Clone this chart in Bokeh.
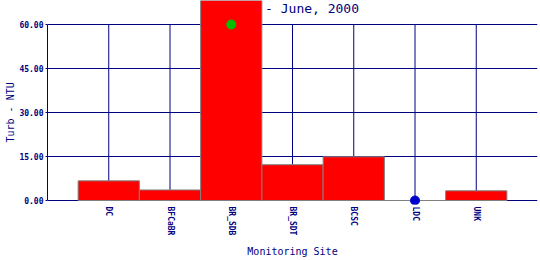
from bokeh.plotting import figure
from bokeh.models import Range1d, FactorRange, FixedTicker, PrintfTickFormatter, Title
from bokeh.core.properties import value
from bokeh.embed import file_html
from bokeh.resources import INLINE

# ---- data ----
sites = ["DC", "BFCaBR", "BR_SDB", "BR_SDT", "BCSC", "LDC", "UNK"]
turb = [6.7, 3.6, 70.0, 12.2, 14.9, 0.0, 3.3]
green_sites = ["BR_SDB"]
green_vals = [60.0]
blue_sites = ["LDC"]
blue_vals = [0.0]
y_ticks = [0, 15, 30, 45, 60]
title_text = "Turb - June, 2000"
x_title = "Monitoring Site"
y_title = "Turb - NTU"

NAVY = "#000080"
FONT = "DejaVu Sans Mono"
px_per_unit = 176 / 60.0
ymax = max(y_ticks) + 24 / px_per_unit
ymin = -4 / px_per_unit

p = figure(width=540, height=260,
           x_range=FactorRange(factors=sites, range_padding=0.5, range_padding_units="absolute"),
           y_range=Range1d(ymin, ymax),
           output_backend="svg", toolbar_location=None,
           min_border_left=47, min_border_right=3, min_border_top=0, min_border_bottom=50)
p.outline_line_color = None
p.background_fill_color = "white"
p.border_fill_color = "white"

p.xgrid.grid_line_color = None
p.ygrid.ticker = FixedTicker(ticks=y_ticks)
p.ygrid.grid_line_color = NAVY
p.ygrid.grid_line_width = 1

# title drawn inside the plot area (partly hidden by tall bar)
p.text(x=[sites[len(sites) // 2]], y=[max(y_ticks) + 16 / px_per_unit], text=[title_text],
       text_font=value(FONT), text_font_size="13px", text_color=NAVY,
       text_align="center", text_baseline="middle")

# vertical grid lines at category centres
n = len(sites)
p.segment(x0=sites, y0=[min(y_ticks)] * n, x1=sites, y1=[max(y_ticks)] * n,
          line_color=NAVY, line_width=1)

p.vbar(x=sites, top=turb, width=1.0, fill_color="#ff0000", line_color="#808080", line_width=1)

p.scatter(x=green_sites, y=green_vals, size=9, fill_color="#00c000", line_color="#00c000")
p.scatter(x=blue_sites, y=blue_vals, size=9, fill_color="#0000cc", line_color="#0000cc")

# y axis
ya = p.yaxis[0]
ya.ticker = FixedTicker(ticks=y_ticks)
ya.formatter = PrintfTickFormatter(format="%.2f")
ya.bounds = (min(y_ticks), max(y_ticks))
ya.axis_line_color = NAVY
ya.major_tick_line_color = NAVY
ya.major_tick_out = 2
ya.major_tick_in = 0
ya.minor_tick_line_color = None
ya.major_label_standoff = 2
ya.major_label_text_font = FONT
ya.major_label_text_font_size = "8px"
ya.major_label_text_font_style = "bold"
ya.major_label_text_color = NAVY

# y axis title, placed along the 0-60 span
p.add_layout(Title(text=y_title, align="left", offset=62, standoff=2,
                   text_font=FONT, text_font_size="10px", text_font_style="normal",
                   text_color=NAVY), "left")

# x axis
xa = p.xaxis[0]
xa.axis_line_color = None
xa.major_tick_line_color = None
xa.minor_tick_line_color = None
xa.major_label_orientation = "vertical"
xa.major_label_standoff = -4
xa.major_label_text_font = FONT
xa.major_label_text_font_size = "8px"
xa.major_label_text_font_style = "bold"
xa.major_label_text_color = NAVY
xa.axis_label = x_title
xa.axis_label_text_font = FONT
xa.axis_label_text_font_size = "10px"
xa.axis_label_text_font_style = "normal"
xa.axis_label_text_color = NAVY
xa.axis_label_standoff = 8

open("out.html", "w").write(file_html(p, INLINE))
